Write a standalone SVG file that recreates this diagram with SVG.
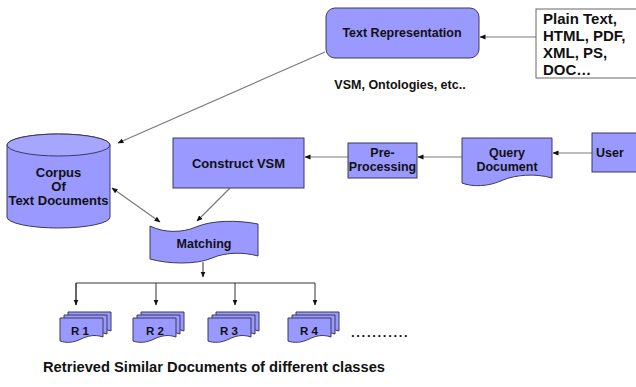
<svg xmlns="http://www.w3.org/2000/svg" width="636" height="387" viewBox="0 0 636 387">
<style>
.n{fill:#9999ff;stroke:#3a3a5a;stroke-width:1}
.t{font-family:"Liberation Sans",Arial,sans-serif;font-weight:bold;fill:#111;text-anchor:middle;font-size:12.5px}
.c{stroke:#7a7a7a;stroke-width:1.2;fill:none}
.c2{stroke:#333;stroke-width:1;fill:none}
</style>
<defs>
<marker id="ah" markerWidth="6" markerHeight="6" refX="5.5" refY="3" orient="auto" markerUnits="userSpaceOnUse">
<path d="M0,0.5 L6,3 L0,5.5 Z" fill="#111"/>
</marker>
<marker id="as" markerWidth="6" markerHeight="6" refX="0.5" refY="3" orient="auto" markerUnits="userSpaceOnUse">
<path d="M6,0.5 L0,3 L6,5.5 Z" fill="#111"/>
</marker>
<path id="doc" d="M0,0 H43 V19 C34,16 28,18 21,21 C13,25 6,25 0,23 Z"/>
<g id="stack">
<use href="#doc" x="8" y="-6" class="n"/>
<use href="#doc" x="4" y="-3" class="n"/>
<use href="#doc" class="n"/>
</g>
</defs>
<rect width="636" height="387" fill="#fff"/>

<g id="connectors">
<line class="c" x1="536" y1="37" x2="480" y2="37" marker-end="url(#ah)"/>
<line class="c" x1="325" y1="52" x2="118" y2="143" marker-end="url(#ah)"/>
<line class="c" x1="592" y1="153" x2="553" y2="153" marker-end="url(#ah)"/>
<line class="c" x1="462" y1="157" x2="418" y2="157" marker-end="url(#ah)"/>
<line class="c" x1="348" y1="157" x2="305" y2="157" marker-end="url(#ah)"/>
<line class="c" x1="230" y1="188" x2="197" y2="221" marker-end="url(#ah)"/>
<line class="c" x1="112" y1="188" x2="160" y2="222" marker-start="url(#as)" marker-end="url(#ah)"/>
<line class="c2" x1="203" y1="262" x2="203" y2="277" marker-end="url(#ah)"/>
<polyline class="c2" points="76,305 76,283 315,283 315,305" marker-end="url(#ah)"/>
<line class="c2" x1="76" y1="283" x2="76" y2="305" marker-end="url(#ah)"/>
<line class="c2" x1="156" y1="283" x2="156" y2="305" marker-end="url(#ah)"/>
<line class="c2" x1="235" y1="283" x2="235" y2="305" marker-end="url(#ah)"/>
</g>

<g id="text-representation">
<rect class="n" x="326" y="8" width="153" height="50" rx="9"/>
<text class="t" x="402" y="37">Text Representation</text>
</g>

<g id="formats">
<rect x="536" y="9" width="104" height="69" fill="#fff" stroke="#666" stroke-width="1"/>
<text class="t" style="text-anchor:start;font-size:15px" x="543">
<tspan x="543" y="24">Plain Text,</tspan>
<tspan x="543" y="41">HTML, PDF,</tspan>
<tspan x="543" y="58">XML, PS,</tspan>
<tspan x="543" y="75">DOC…</tspan>
</text>
</g>

<g id="vsm-label">
<text class="t" x="400" y="89">VSM, Ontologies, etc..</text>
</g>

<g id="corpus">
<path class="n" d="M7,145 A51.5,11 0 0 1 110,145 V217 A51.5,11 0 0 1 7,217 Z"/>
<ellipse cx="58.5" cy="145" rx="51.5" ry="11" fill="#a6a6ff" stroke="#3a3a5a" stroke-width="1"/>
<text class="t" style="font-size:13px" x="58.5" y="177">Corpus</text>
<text class="t" style="font-size:13px" x="58.5" y="191">Of</text>
<text class="t" style="font-size:13px" x="58.5" y="205">Text Documents</text>
</g>

<g id="construct-vsm">
<rect class="n" x="173" y="138" width="131" height="50"/>
<text class="t" style="font-size:13px" x="238.5" y="168">Construct VSM</text>
</g>

<g id="pre-processing">
<rect class="n" x="348" y="143" width="69" height="35"/>
<text class="t" x="382.5" y="157">Pre-</text>
<text class="t" x="382.5" y="171">Processing</text>
</g>

<g id="query-document">
<path class="n" d="M462,138 H552 V178 C535,173 515,175 503,180 C488,187 472,187 462,183 Z"/>
<text class="t" x="507" y="157">Query</text>
<text class="t" x="507" y="171">Document</text>
</g>

<g id="user">
<rect class="n" x="592" y="133" width="50" height="39"/>
<text class="t" x="610" y="157">User</text>
</g>

<g id="matching">
<path class="n" d="M150,226 C164,233 182,233 196,227 C212,220 238,220 258,224 V256 C244,252 226,252 212,258 C196,265 168,264 150,259 Z"/>
<text class="t" x="204" y="248">Matching</text>
</g>

<g id="r1">
<use href="#stack" x="60" y="318"/>
<text class="t" style="font-size:11.5px" x="80" y="335">R 1</text>
</g>
<g id="r2">
<use href="#stack" x="133" y="318"/>
<text class="t" style="font-size:11.5px" x="155" y="335">R 2</text>
</g>
<g id="r3">
<use href="#stack" x="208" y="318"/>
<text class="t" style="font-size:11.5px" x="229" y="335">R 3</text>
</g>
<g id="r4">
<use href="#stack" x="288" y="318"/>
<text class="t" style="font-size:11.5px" x="309" y="335">R 4</text>
</g>

<g id="dots">
<text class="t" style="text-anchor:start;font-size:13px;letter-spacing:1.7px" x="351" y="337">...........</text>
</g>

<g id="caption">
<text class="t" style="text-anchor:start;font-size:14.7px" x="43" y="372">Retrieved Similar Documents of different classes</text>
</g>
</svg>
